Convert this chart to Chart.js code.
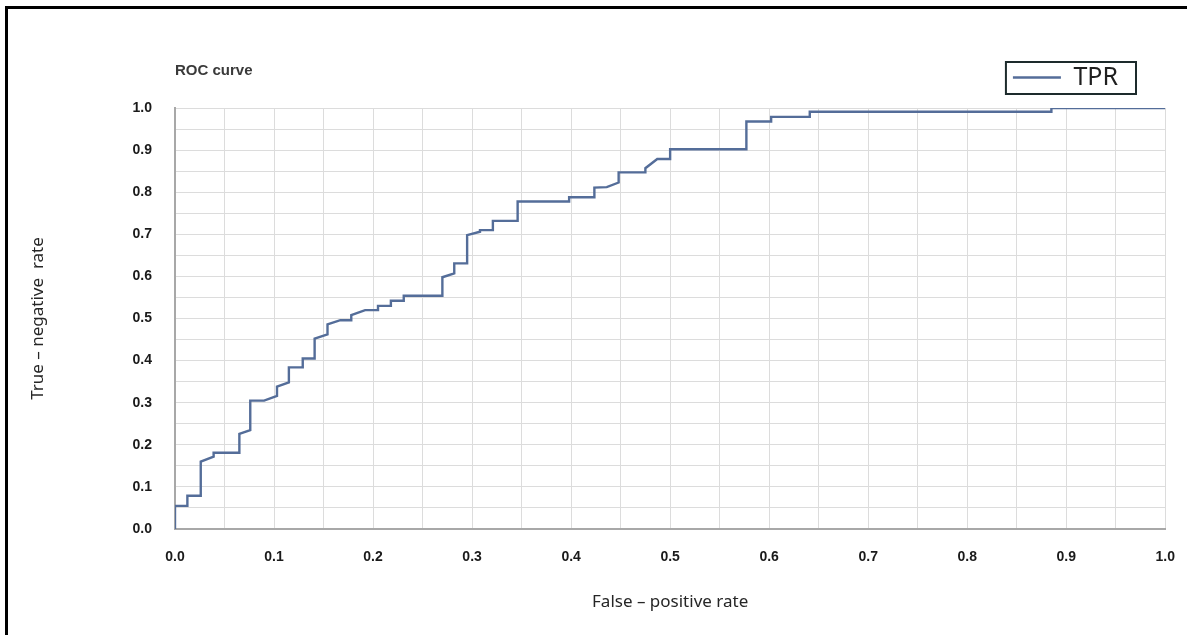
<!DOCTYPE html>
<html lang="en">
<head>
    <meta charset="UTF-8">
    <title>ROC curve</title>
    <script src="https://cdn.jsdelivr.net/npm/chart.js"></script>
    <style>
        html, body {
            margin: 0;
            padding: 0;
            background: #fff;
        }
        #wrap {
            width: 1187px;
            height: 635px;
            position: relative;
        }
    </style>
</head>
<body>
    <div id="wrap">
        <canvas id="rocChart" width="1187" height="635"></canvas>
    </div>

    <script>
        // ROC step curve vertices
        const fprValues = [
            0, 0, 0.0125, 0.0125, 0.026, 0.026, 0.039, 0.039, 0.065, 0.065,
            0.076, 0.076, 0.09, 0.103, 0.103, 0.115, 0.115, 0.129, 0.129, 0.141,
            0.141, 0.154, 0.154, 0.167, 0.178, 0.178, 0.192, 0.205, 0.205, 0.218,
            0.218, 0.231, 0.231, 0.27, 0.27, 0.282, 0.282, 0.295, 0.295, 0.308,
            0.308, 0.321, 0.321, 0.346, 0.346, 0.398, 0.398, 0.4235, 0.4235, 0.436,
            0.448, 0.448, 0.475, 0.475, 0.487, 0.5, 0.5, 0.577, 0.577, 0.602,
            0.602, 0.641, 0.641, 0.885, 0.885, 1.0
        ];
        const tprValues = [
            0, 0.055, 0.055, 0.079, 0.079, 0.16, 0.172, 0.181, 0.181, 0.226,
            0.235, 0.305, 0.305, 0.316, 0.338, 0.348, 0.384, 0.384, 0.405, 0.405,
            0.452, 0.462, 0.486, 0.496, 0.496, 0.508, 0.52, 0.52, 0.53, 0.53,
            0.542, 0.542, 0.554, 0.554, 0.598, 0.607, 0.631, 0.631, 0.698, 0.706,
            0.71, 0.71, 0.732, 0.732, 0.778, 0.778, 0.788, 0.788, 0.811, 0.812,
            0.823, 0.847, 0.847, 0.857, 0.879, 0.879, 0.902, 0.902, 0.968, 0.968,
            0.979, 0.979, 0.991, 0.991, 1.0, 1.0
        ];
        const seriesLabel = 'TPR';
        const chartTitle = 'ROC curve';
        const xTitle = 'False \u2013 positive rate';
        const yTitle = 'True \u2013 negative  rate';

        const points = fprValues.map((x, i) => ({ x: x, y: tprValues[i] }));

        // only label every 0.1, grid every 0.05
        function tenthLabel(value) {
            const t = value * 10;
            if (Math.abs(t - Math.round(t)) < 1e-6) return (Math.round(t) / 10).toFixed(1);
            return '';
        }

        const extras = {
            id: 'extras',
            beforeInit(chart) {
                // leave a gap between legend and plot
                const fit = chart.legend.fit;
                chart.legend.fit = function () {
                    fit.bind(chart.legend)();
                    this.height += 8;
                };
            },
            afterDraw(chart) {
                const ctx = chart.ctx;
                ctx.save();
                // outer frame
                ctx.strokeStyle = '#000';
                ctx.lineWidth = 3;
                ctx.beginPath();
                ctx.moveTo(6.5, 635);
                ctx.lineTo(6.5, 7.5);
                ctx.lineTo(1187, 7.5);
                ctx.stroke();
                // box round the legend
                const hb = chart.legend.legendHitBoxes[0];
                if (hb) {
                    ctx.strokeStyle = '#1d2b2c';
                    ctx.lineWidth = 2;
                    ctx.strokeRect(hb.left - 7, hb.top - 3, hb.width + 25, hb.height + 7);
                }
                // title
                ctx.fillStyle = '#3a3a3a';
                ctx.font = 'bold 15px "Liberation Sans", Arial, sans-serif';
                ctx.textBaseline = 'middle';
                ctx.textAlign = 'left';
                ctx.fillText(chartTitle, chart.chartArea.left, 71);
                ctx.restore();
            }
        };

        const ctx = document.getElementById('rocChart').getContext('2d');
        new Chart(ctx, {
            type: 'line',
            data: {
                datasets: [{
                    label: seriesLabel,
                    data: points,
                    borderColor: '#546d99',
                    backgroundColor: '#546d99',
                    borderWidth: 2.4,
                    pointRadius: 0,
                    tension: 0,
                    fill: false
                }]
            },
            options: {
                responsive: false,
                animation: false,
                layout: {
                    padding: { top: 2, right: 6, left: 0, bottom: 0 }
                },
                plugins: {
                    legend: {
                        position: 'top',
                        align: 'end',
                        labels: {
                            usePointStyle: true,
                            pointStyle: 'line',
                            pointStyleWidth: 48,
                            padding: 63,
                            color: '#1f1f1f',
                            font: { family: '"Noto Sans", sans-serif', size: 25 }
                        }
                    },
                    tooltip: { enabled: false }
                },
                scales: {
                    x: {
                        type: 'linear',
                        min: 0,
                        max: 1,
                        afterFit: function (scale) { scale.height = 106; },
                        grid: { color: '#dcdcdc', lineWidth: 1, drawTicks: false },
                        border: { color: '#a8a8a8', width: 2 },
                        ticks: {
                            stepSize: 0.05,
                            autoSkip: false,
                            maxRotation: 0,
                            padding: 12,
                            color: '#1a1a1a',
                            font: { family: '"Liberation Sans", Arial, sans-serif', size: 14, weight: 'bold', lineHeight: 2.3 },
                            callback: tenthLabel
                        },
                        title: {
                            display: true,
                            text: xTitle,
                            color: '#262626',
                            padding: { top: 0, bottom: 23 },
                            font: { family: '"Noto Sans", sans-serif', size: 17 }
                        }
                    },
                    y: {
                        min: 0,
                        max: 1,
                        afterFit: function (scale) { scale.width = 175; },
                        grid: { color: '#dcdcdc', lineWidth: 1, drawTicks: false },
                        border: { color: '#a8a8a8', width: 2 },
                        ticks: {
                            stepSize: 0.05,
                            autoSkip: false,
                            padding: 23,
                            color: '#1a1a1a',
                            font: { family: '"Liberation Sans", Arial, sans-serif', size: 14, weight: 'bold' },
                            callback: tenthLabel
                        },
                        title: {
                            display: true,
                            text: yTitle,
                            color: '#262626',
                            padding: { top: 28, bottom: 0 },
                            font: { family: '"Noto Sans", sans-serif', size: 17 }
                        }
                    }
                }
            },
            plugins: [extras]
        });
    </script>
</body>
</html>
